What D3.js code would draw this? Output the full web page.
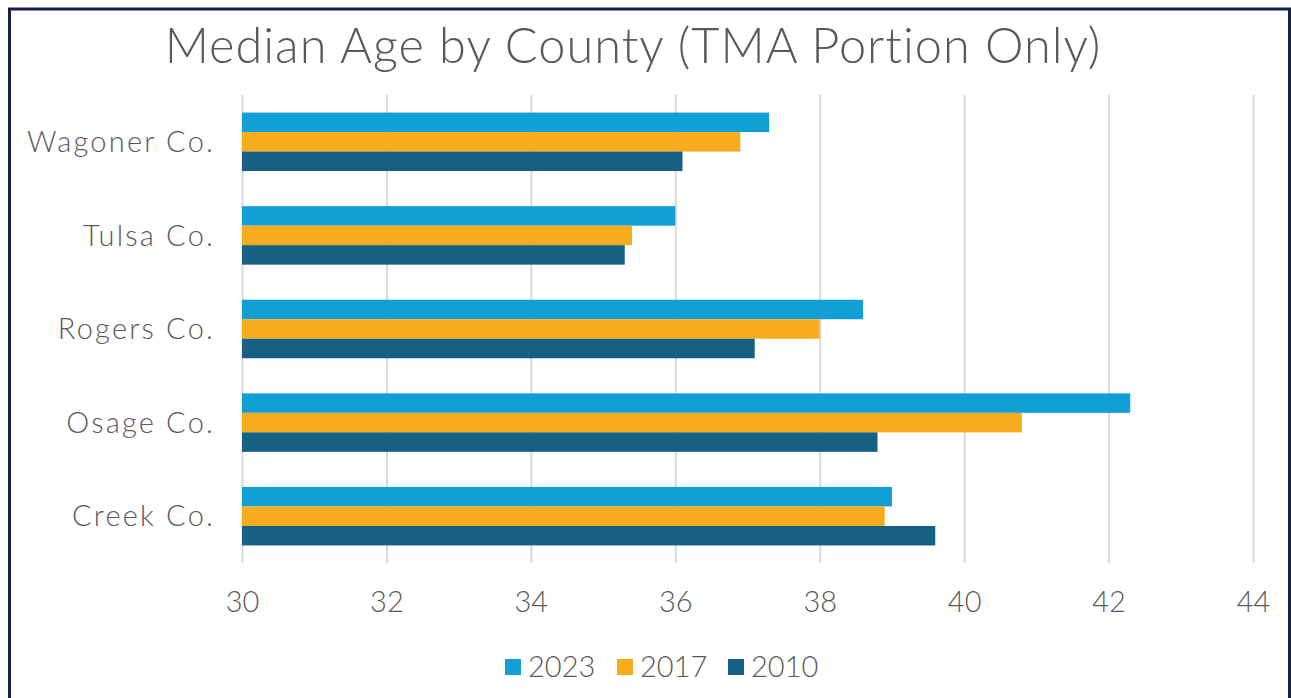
<!DOCTYPE html>
<html>
<head>
<meta charset="utf-8">
<script src="https://cdn.jsdelivr.net/npm/d3@7"></script>
<style>
  html, body { margin: 0; padding: 0; background: #fff; }
  text { font-family: "Century Gothic", "URW Gothic", Lato, "Noto Sans", sans-serif; fill: #595959; }
</style>
</head>
<body>
<div id="chart"></div>
<script>
const counties = ["Wagoner Co.", "Tulsa Co.", "Rogers Co.", "Osage Co.", "Creek Co."];
const years = ["2023", "2017", "2010"];
const age2023 = [37.3, 36.0, 38.6, 42.3, 39.0];
const age2017 = [36.9, 35.4, 38.0, 40.8, 38.9];
const age2010 = [36.1, 35.3, 37.1, 38.8, 39.6];
const xTicks = [30, 32, 34, 36, 38, 40, 42, 44];
const colors = ["#119fd6", "#f7ac1e", "#166083"];

const W = 1291, H = 698;
const plot = { left: 242, right: 1253, top: 95, bottom: 563 };

const seriesVals = [age2023, age2017, age2010];
const rows = counties.map((c, i) => ({
  county: c,
  values: years.map((y, j) => ({ year: y, value: seriesVals[j][i], color: colors[j] }))
}));

const svg = d3.select("#chart").append("svg")
  .attr("width", W)
  .attr("height", H);

// frame
svg.append("rect")
  .attr("x", 9.5).attr("y", 9)
  .attr("width", 1280).attr("height", 720)
  .attr("fill", "#fff")
  .attr("stroke", "#142148")
  .attr("stroke-width", 3);

// title, fitted to the reference width
const title = svg.append("text")
  .attr("x", (163 + 1103) / 2)
  .attr("y", 63)
  .attr("text-anchor", "middle")
  .style("font-size", "46px")
  .style("font-weight", 300)
  .style("letter-spacing", "1px")
  .text("Median Age by County (TMA Portion Only)");
const tw = title.node().getComputedTextLength();
title.style("font-size", (46 * 940 / tw).toFixed(1) + "px");

const x = d3.scaleLinear().domain([30, 44]).range([plot.left, plot.right]);
const y = d3.scaleBand().domain(counties)
  .range([plot.top, plot.bottom])
  .paddingInner(0.375).paddingOuter(0.1875);
const ySub = d3.scaleBand().domain(years).range([0, y.bandwidth()]);

// gridlines
svg.append("g")
  .attr("class", "grid")
  .attr("transform", "translate(0," + plot.bottom + ")")
  .call(d3.axisBottom(x).tickValues(xTicks).tickSize(-(plot.bottom - plot.top)).tickFormat(""))
  .call(g => g.select(".domain").remove())
  .call(g => g.selectAll("line").attr("stroke", "#d9d9d9").attr("stroke-width", 2));

// bars
const group = svg.selectAll(".county")
  .data(rows)
  .enter().append("g")
  .attr("class", "county")
  .attr("transform", d => "translate(0," + y(d.county) + ")");

group.selectAll("rect")
  .data(d => d.values)
  .enter().append("rect")
  .attr("x", x(30))
  .attr("y", d => ySub(d.year))
  .attr("width", d => x(d.value) - x(30))
  .attr("height", ySub.bandwidth())
  .attr("fill", d => d.color);

// x tick labels
const xAxis = svg.append("g")
  .attr("transform", "translate(0," + plot.bottom + ")")
  .call(d3.axisBottom(x).tickValues(xTicks).tickSize(0).tickPadding(0).tickFormat(d3.format("d")));
xAxis.select(".domain").remove();
xAxis.selectAll("text")
  .attr("y", 49)
  .attr("dy", null)
  .style("font-size", "29px")
  .style("font-weight", 300)
  .attr("fill", "#595959");

// category labels
const yAxis = svg.append("g")
  .attr("transform", "translate(" + 215 + ",0)")
  .call(d3.axisLeft(y).tickSize(0).tickPadding(0));
yAxis.select(".domain").remove();
yAxis.selectAll("text")
  .attr("dy", "0.35em")
  .style("font-size", "29px")
  .style("font-weight", 300)
  .style("letter-spacing", "2.2px")
  .attr("fill", "#595959");

// legend
const legendX = [505, 617, 728];
const legend = svg.selectAll(".legend")
  .data(years)
  .enter().append("g")
  .attr("class", "legend")
  .attr("transform", (d, i) => "translate(" + legendX[i] + ",667)");
legend.append("rect")
  .attr("x", 0).attr("y", -8)
  .attr("width", 16).attr("height", 16)
  .attr("fill", (d, i) => colors[i]);
legend.append("text")
  .attr("x", 23)
  .attr("y", 0)
  .attr("dy", "0.36em")
  .style("font-size", "29px")
  .style("font-weight", 300)
  .text(d => d);
</script>
</body>
</html>
